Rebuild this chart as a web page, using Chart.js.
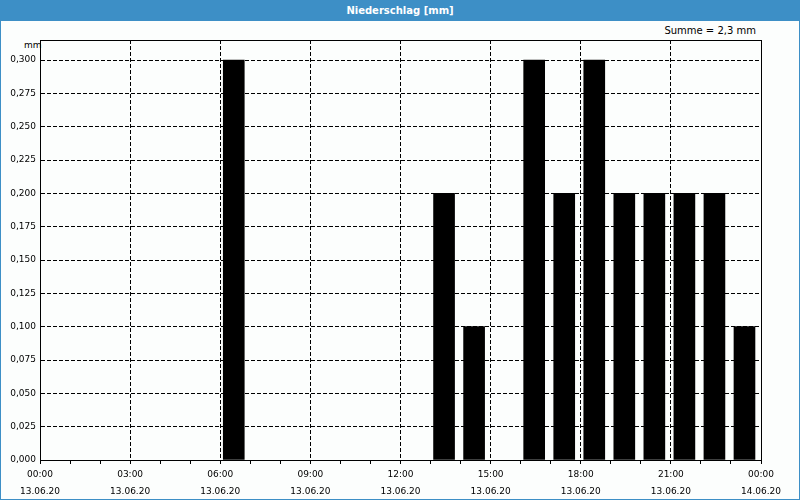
<!DOCTYPE html>
<html>
<head>
<meta charset="utf-8">
<script src="https://cdn.jsdelivr.net/npm/chart.js@4"></script>
<style>
  html,body{margin:0;padding:0;background:#fff;}
  #box{position:relative;width:800px;height:500px;box-sizing:border-box;border:1px solid #3d8fc6;background:#fcfefd;font-family:"DejaVu Sans",Verdana,sans-serif;}
  #head{height:20px;line-height:19px;background:#3d8fc6;color:#fff;font-weight:bold;font-size:10px;text-align:center;}
  #sum{position:absolute;right:43px;top:24px;font-size:10px;color:#000;}
  #unit{position:absolute;left:23px;top:39px;font-size:9px;color:#000;}
  #wrap{position:absolute;left:0;top:20px;width:798px;height:478px;}
</style>
</head>
<body>
<div id="box">
  <div id="head">Niederschlag [mm]</div>
  <div id="sum">Summe = 2,3 mm</div>
  <div id="unit">mm</div>
  <div id="wrap"><canvas id="c"></canvas></div>
</div>
<script>
// Stunden (Beginn) und Niederschlag je Stunde in mm
const hours  = [0,1,2,3,4,5,6,7,8,9,10,11,12,13,14,15,16,17,18,19,20,21,22,23];
const precip = [0,0,0,0,0,0,0.3,0,0,0,0,0,0,0.2,0.1,0,0.3,0.2,0.3,0.2,0.2,0.2,0.2,0.1];
const timeLabels = {0:"00:00",3:"03:00",6:"06:00",9:"09:00",12:"12:00",15:"15:00",18:"18:00",21:"21:00",24:"00:00"};
const dateLabels = {0:"13.06.20",3:"13.06.20",6:"13.06.20",9:"13.06.20",12:"13.06.20",15:"13.06.20",18:"13.06.20",21:"13.06.20",24:"14.06.20"};
const yTicks = [0,0.025,0.05,0.075,0.1,0.125,0.15,0.175,0.2,0.225,0.25,0.275,0.3];

// Balken liegen im Stundenintervall etwas nach rechts versetzt
const pts = hours.map((h,i)=>({x:h+0.45, y:precip[i]})).filter(p=>p.y>0);

const frame = {
  id:"frame",
  afterDraw(chart){
    const a=chart.chartArea, ctx=chart.ctx;
    ctx.save(); ctx.strokeStyle="#000"; ctx.lineWidth=1;
    ctx.strokeRect(Math.round(a.left)+0.5, Math.round(a.top)+0.5, Math.round(a.right-a.left), Math.round(a.bottom-a.top));
    ctx.restore();
  }
};

new Chart(document.getElementById("c"),{
  type:"bar",
  data:{datasets:[{data:pts, backgroundColor:"#000", borderWidth:0, barThickness:21}]},
  options:{
    responsive:true, maintainAspectRatio:false, animation:false,
    layout:{padding:{top:19,right:38,left:0,bottom:0}},
    plugins:{legend:{display:false}, tooltip:{enabled:false}},
    scales:{
      x:{type:"linear", min:0, max:24, offset:false,
        afterBuildTicks(s){ s.ticks=[...hours,24].map(v=>({value:v})); },
        afterFit(s){ s.height=39; },
        grid:{offset:false,
              color:c=>(c.tick && c.tick.value%3===0 && c.tick.value>0 && c.tick.value<24)?"#000":"rgba(0,0,0,0)",
              tickColor:"#000", tickLength:4, lineWidth:1, z:-1},
        border:{color:"#000", dash:[4,2]},
        ticks:{autoSkip:false, maxRotation:0, padding:3, color:"#000",
          font:{family:"DejaVu Sans", size:9, lineHeight:1.8},
          callback:v=>timeLabels[v]!==undefined?[timeLabels[v],dateLabels[v]]:""}
      },
      y:{min:0, max:0.315,
        afterBuildTicks(s){ s.ticks=yTicks.map(v=>({value:v})); },
        afterFit(s){ s.width=39; },
        grid:{color:c=>(c.tick && c.tick.value>0)?"#000":"rgba(0,0,0,0)", drawTicks:false, lineWidth:1, z:-1},
        border:{color:"#000", dash:[4,2]},
        ticks:{padding:4, color:"#000", font:{family:"DejaVu Sans", size:9},
          callback:v=>v.toFixed(3).replace(".",",")}
      }
    }
  },
  plugins:[frame]
});
</script>
</body>
</html>
